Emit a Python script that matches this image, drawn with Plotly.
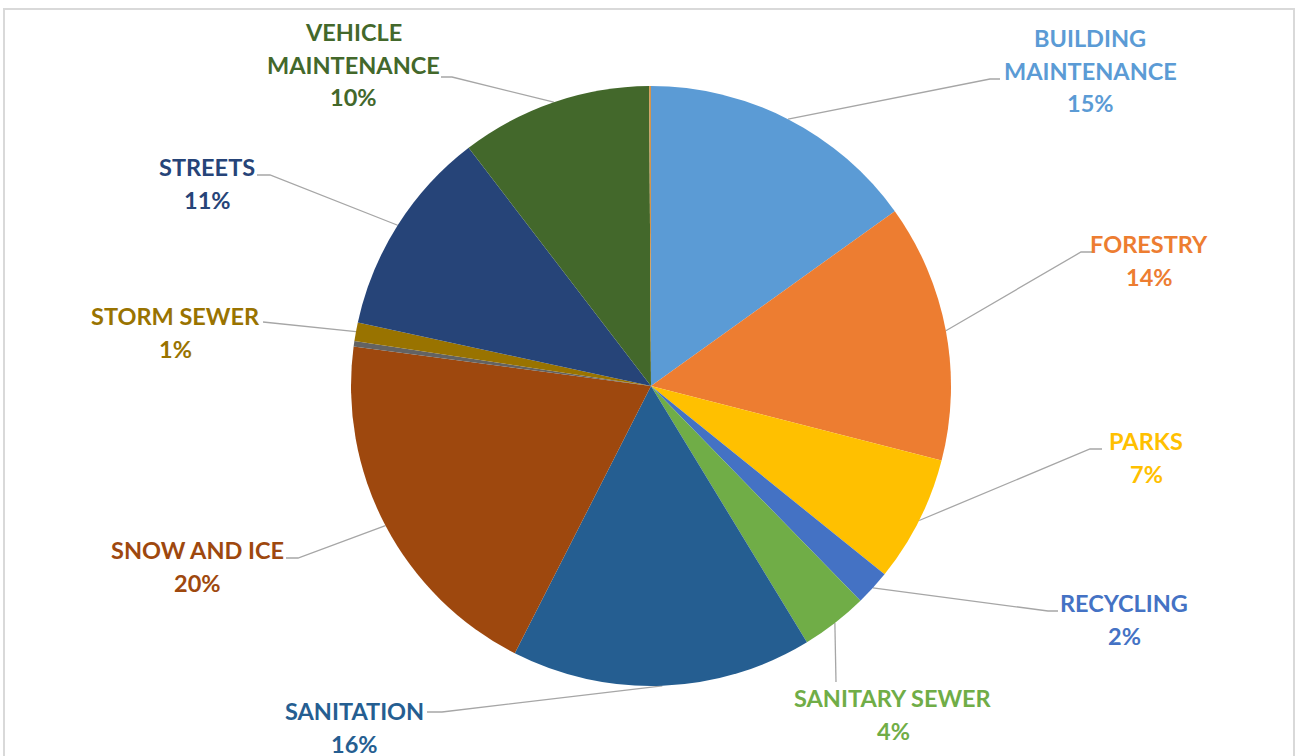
import math
import plotly.graph_objects as go

# ---------------- data ----------------
categories = ["BUILDING MAINTENANCE", "FORESTRY", "PARKS", "RECYCLING", "SANITARY SEWER",
              "SANITATION", "SNOW AND ICE", "OTHER", "STORM SEWER", "STREETS",
              "VEHICLE MAINTENANCE", "MISC"]
values = [15.1, 13.9, 6.8, 1.9, 3.6, 16.2, 19.6, 0.3, 1.0, 11.2, 10.3, 0.1]
colors = ["#5B9BD5", "#ED7D31", "#FFC000", "#4472C4", "#70AD47", "#255E91",
          "#9E480E", "#636363", "#997300", "#264478", "#43682B", "#D4954B"]

# label layout (text lines, line centres in px, leader start points in px)
label_lines = {
    "BUILDING MAINTENANCE": (["BUILDING", "MAINTENANCE"], 1090, 38),
    "FORESTRY": (["FORESTRY"], 1149, 244),
    "PARKS": (["PARKS"], 1146, 441),
    "RECYCLING": (["RECYCLING"], 1124, 603),
    "SANITARY SEWER": (["SANITARY SEWER"], 893, 698),
    "SANITATION": (["SANITATION"], 354, 711),
    "SNOW AND ICE": (["SNOW AND ICE"], 197, 550),
    "STORM SEWER": (["STORM SEWER"], 175, 316),
    "STREETS": (["STREETS"], 207, 167),
    "VEHICLE MAINTENANCE": (["VEHICLE", "MAINTENANCE"], 353, 32),
}
leader_start = {
    "BUILDING MAINTENANCE": [(1000, 79), (990, 79)],
    "FORESTRY": [(1092, 252), (1081, 252)],
    "PARKS": [(1102, 449), (1090, 449)],
    "RECYCLING": [(1058, 611), (1048, 611)],
    "SANITARY SEWER": [(836, 682)],
    "SANITATION": [(427, 712), (442, 712)],
    "SNOW AND ICE": [(286, 558), (298, 558)],
    "STORM SEWER": [(263, 322)],
    "STREETS": [(257, 175), (270, 175)],
    "VEHICLE MAINTENANCE": [(441, 77), (452, 77)],
}

# figure size (body margin removed by post_script)
OFF = 0
W, H = 1298, 756
dom_x = [(351 - OFF) / W, (951 - OFF) / W]
dom_y = [1 - (686 - OFF) / H, 1 - (86 - OFF) / H]
cx = OFF + (dom_x[0] + dom_x[1]) / 2 * W
cy = OFF + (1 - (dom_y[0] + dom_y[1]) / 2) * H
R = min((dom_x[1] - dom_x[0]) * W, (dom_y[1] - dom_y[0]) * H) / 2

fig = go.Figure()
fig.add_trace(go.Pie(
    labels=categories, values=values, sort=False, direction="clockwise", rotation=0,
    marker=dict(colors=colors, line=dict(width=0)),
    textinfo="none", hoverinfo="label+percent", showlegend=False,
    domain=dict(x=dom_x, y=dom_y),
))

total = sum(values)
cum = 0
font_family = "Lato"
fsize = 23.5
line_gap = 32.5
annotations = []
for cat, v, col in zip(categories, values, colors):
    mid = (cum + v / 2) / total * 2 * math.pi
    cum += v
    if cat not in label_lines:
        continue
    px = cx + R * math.sin(mid)
    py = cy - R * math.cos(mid)
    pts = leader_start[cat] + [(px, py)]
    fig.add_trace(go.Scatter(
        x=[p[0] for p in pts], y=[p[1] for p in pts], mode="lines",
        line=dict(color="#A6A6A6", width=1.3), hoverinfo="skip", showlegend=False,
        xaxis="x", yaxis="y"))
    lines, lx, ly = label_lines[cat]
    pct = f"{round(v / total * 100)}%"
    for i, t in enumerate(lines + [pct]):
        annotations.append(dict(
            x=lx, y=ly + i * line_gap, xref="x", yref="y", text=t, showarrow=False,
            xanchor="center", yanchor="middle",
            font=dict(family=font_family, size=fsize, color=col, weight="bold")))

fig.update_layout(
    width=W, height=H, margin=dict(l=0, r=0, t=0, b=0),
    paper_bgcolor="white", plot_bgcolor="rgba(0,0,0,0)",
    xaxis=dict(range=[OFF, OFF + W], visible=False, fixedrange=True),
    yaxis=dict(range=[OFF + H, OFF], visible=False, fixedrange=True),
    annotations=annotations,
    shapes=[dict(type="rect", xref="paper", yref="paper",
                 x0=4 / W, y0=-0.05, x1=1294 / W, y1=1 - 9 / H,
                 line=dict(color="#D9D9D9", width=2), fillcolor="rgba(0,0,0,0)", layer="below")],
    showlegend=False,
)

fig.write_html("out.html", config={"displayModeBar": False},
               post_script="document.body.style.margin='0';document.body.style.overflow='hidden';")
